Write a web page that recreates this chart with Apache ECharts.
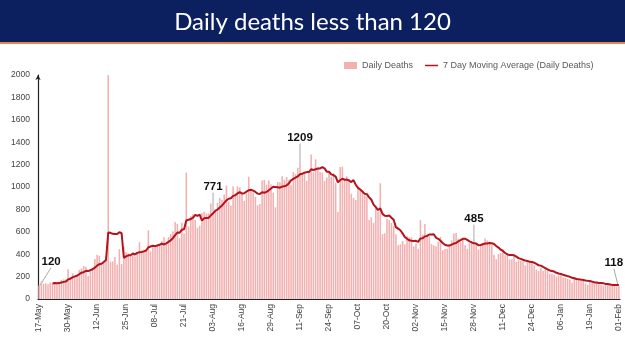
<!DOCTYPE html>
<html>
<head>
<meta charset="utf-8">
<script src="https://cdn.jsdelivr.net/npm/echarts@6/dist/echarts.min.js"></script>
<style>
  html, body { margin: 0; padding: 0; background: #fff; }
  #chart { width: 625px; height: 351px; }
</style>
</head>
<body>
<div id="chart"></div>
<script>
// one bar per day, 17-May-2020 .. 01-Feb-2021
var startDate = "2020-05-17";
var dayCount = 261;

var dailyDeaths = [
  120, 157, 134, 140, 132, 148, 137, 147, 146, 146, 170, 175, 175, 265, 193, 230, 204, 217, 260, 273,
  294, 287, 206, 266, 279, 357, 396, 386, 311, 325, 380, 2003, 334, 336, 375, 306, 445, 312, 465, 418,
  407, 384, 410, 380, 418, 507, 434, 442, 442, 613, 425, 467, 482, 475, 487, 519, 551, 500, 553, 582,
  606, 687, 671, 543, 681, 587, 1129, 648, 740, 757, 705, 636, 654, 768, 779, 764, 765, 853, 771, 803,
  857, 904, 886, 933, 1013, 871, 834, 1007, 942, 1007, 996, 944, 876, 941, 1092, 977, 950, 912, 836, 848,
  1059, 1063, 1021, 1057, 1023, 948, 819, 1045, 1043, 1096, 1065, 1089, 1065, 1016, 1133, 1115, 1172, 1209, 1114, 1136,
  1054, 1132, 1290, 1132, 1247, 1174, 1133, 1130, 1053, 1085, 1129, 1089, 1124, 1039, 776, 1179, 1181, 1069, 1095, 1069,
  940, 903, 884, 986, 971, 964, 926, 918, 706, 730, 680, 815, 780, 1033, 579, 587, 717, 706, 680, 650,
  578, 480, 488, 517, 488, 563, 551, 551, 470, 496, 448, 704, 577, 670, 576, 559, 490, 480, 470, 512,
  554, 435, 447, 449, 474, 524, 584, 590, 540, 511, 537, 480, 448, 500, 518, 485, 496, 443, 482, 501,
  540, 524, 512, 482, 396, 355, 402, 411, 442, 391, 387, 354, 355, 387, 333, 347, 341, 336, 301, 336,
  333, 325, 299, 264, 251, 279, 252, 262, 251, 228, 224, 217, 201, 212, 232, 195, 188, 180, 175, 145,
  178, 188, 175, 168, 162, 137, 128, 162, 151, 142, 150, 131, 127, 118, 123, 137, 123, 124, 127, 113,
  118
];

// 7 day moving average as drawn, first value on the 7th day
var movingAverage = [
  "-", "-", "-", "-", "-", "-",
  138, 142, 141, 142, 147, 153, 157, 175, 181, 193, 202, 208, 221, 235,
  239, 252, 249, 258, 266, 280, 298, 311, 314, 331, 348, 594, 591, 582, 581, 580, 597, 587, 368, 380,
  390, 391, 406, 397, 412, 418, 420, 425, 433, 462, 469, 476, 472, 478, 484, 495, 487, 497, 510, 524,
  543, 571, 593, 592, 618, 622, 701, 707, 714, 726, 750, 743, 753, 701, 720, 723, 724, 746, 765, 786,
  799, 817, 834, 858, 881, 895, 900, 921, 927, 944, 953, 943, 944, 959, 971, 976, 968, 956, 941, 937,
  953, 949, 956, 971, 987, 1003, 999, 997, 994, 1004, 1006, 1015, 1032, 1060, 1072, 1083, 1094, 1114, 1118, 1128,
  1133, 1133, 1158, 1152, 1158, 1166, 1166, 1177, 1166, 1136, 1136, 1113, 1106, 1093, 1042, 1060, 1074, 1065, 1066, 1058,
  1044, 1062, 1020, 992, 978, 960, 939, 936, 908, 886, 842, 820, 794, 809, 760, 743, 742, 745, 726, 707,
  642, 628, 614, 586, 554, 538, 524, 520, 518, 519, 510, 540, 542, 559, 563, 576, 575, 579, 546, 537,
  520, 500, 484, 478, 477, 485, 495, 500, 515, 525, 537, 538, 527, 515, 505, 497, 495, 481, 482, 489,
  495, 496, 500, 498, 491, 473, 459, 440, 429, 411, 398, 392, 392, 390, 378, 365, 358, 350, 343, 340,
  332, 331, 324, 313, 301, 298, 286, 276, 265, 255, 250, 245, 234, 228, 224, 216, 210, 204, 198, 190,
  185, 178, 176, 173, 170, 165, 162, 160, 155, 150, 147, 143, 142, 140, 135, 133, 130, 126, 126, 124,
  124
];

// bars that carry a value label in the picture
var labelledDays = [0, 78, 117, 195, 260];

var yMax = 2000;
var yStep = 200;
var monthNames = ["Jan", "Feb", "Mar", "Apr", "May", "Jun", "Jul", "Aug", "Sep", "Oct", "Nov", "Dec"];

var dates = [];
var d0 = new Date(startDate + "T00:00:00Z");
for (var i = 0; i < dayCount; i++) {
  var d = new Date(d0.getTime() + i * 86400000);
  var dd = d.getUTCDate();
  dates.push((dd < 10 ? "0" + dd : dd) + "-" + monthNames[d.getUTCMonth()]);
}

var barData = dailyDeaths.map(function(v, idx) {
  if (labelledDays.indexOf(idx) < 0) return v;
  return { value: v, label: { show: true } };
});

var chart = echarts.init(document.getElementById("chart"), null, { renderer: "canvas" });

chart.setOption({
  animation: false,
  backgroundColor: "#fff",
  title: {
    text: "Daily deaths less than 120",
    left: "center",
    top: 5,
    textStyle: {
      color: "#fff",
      fontSize: 24,
      fontWeight: "normal",
      fontFamily: "Lato"
    }
  },
  graphic: [
    { type: "rect", z: -1, shape: { x: 0, y: 0, width: 625, height: 42 }, style: { fill: "#0c1f5e" } },
    { type: "rect", z: -1, shape: { x: 0, y: 42, width: 625, height: 2 }, style: { fill: "#e2864a" } }
  ],
  legend: {
    left: 339,
    top: 56,
    itemWidth: 13,
    itemHeight: 7,
    itemGap: 12,
    textStyle: { fontSize: 9, color: "#595959", fontFamily: "Liberation Sans" },
    data: [
      { name: "Daily Deaths", icon: "rect" },
      { name: "7 Day Moving Average (Daily Deaths)", icon: "path://M0,9 L26,9 L26,12 L0,12 Z" }
    ]
  },
  grid: { left: 38, right: 5, top: 75, bottom: 52 },
  xAxis: {
    type: "category",
    data: dates,
    boundaryGap: true,
    axisLine: { lineStyle: { color: "#222", width: 1.2 } },
    axisTick: { show: false },
    axisLabel: {
      interval: 12,
      rotate: 90,
      fontSize: 8.5,
      color: "#444",
      fontFamily: "Liberation Sans",
      margin: 5
    }
  },
  yAxis: {
    type: "value",
    min: 0,
    max: yMax,
    interval: yStep,
    splitLine: { show: false },
    axisLine: {
      show: true,
      symbol: ["none", "arrow"],
      symbolSize: [4, 5],
      lineStyle: { color: "#222", width: 1.2 }
    },
    axisTick: { show: false },
    axisLabel: {
      fontSize: 8.5,
      color: "#444",
      fontFamily: "Liberation Sans",
      margin: 8,
      formatter: function(v) { return String(v); }
    }
  },
  series: [
    {
      name: "Daily Deaths",
      type: "bar",
      data: barData,
      barCategoryGap: "30%",
      itemStyle: { color: "#f3b0b0" },
      label: {
        show: false,
        position: "top",
        distance: 2,
        color: "#111",
        fontWeight: "bold",
        fontSize: 11.5,
        fontFamily: "Liberation Sans"
      },
      labelLine: { show: true, lineStyle: { color: "#a8a8a8", width: 1 } },
      labelLayout: function(p) {
        if (p.dataIndex === 0) return { dx: 12, dy: -16 };
        if (p.dataIndex === dayCount - 1) return { dx: -5, dy: -15 };
        return { dy: -18 };
      }
    },
    {
      name: "7 Day Moving Average (Daily Deaths)",
      type: "line",
      data: movingAverage,
      symbol: "none",
      z: 3,
      lineStyle: { color: "#b5121b", width: 2 },
      itemStyle: { color: "#b5121b" }
    }
  ]
});
</script>
</body>
</html>
